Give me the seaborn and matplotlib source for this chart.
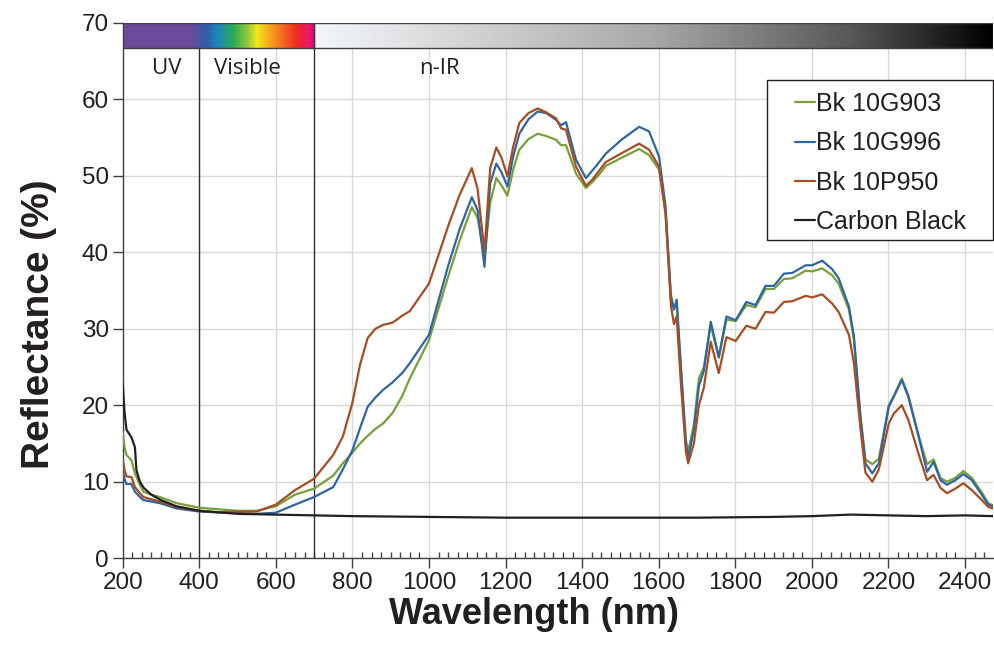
import numpy as np
import pandas as pd
import matplotlib
matplotlib.use("Agg")
import matplotlib.pyplot as plt
from matplotlib.colors import LinearSegmentedColormap
from matplotlib.patches import Rectangle
import seaborn as sns

# wavelength grid (nm) shared by the three Bk pigments
wl = [200, 205, 210, 223, 232, 245, 254, 275, 297, 341, 400, 450, 500, 550, 600, 650,
      700, 750, 775, 800, 820, 840, 860, 880, 905, 930, 950, 1000, 1050, 1080, 1112,
      1127, 1145, 1160, 1176, 1190, 1205, 1220, 1236, 1260, 1284, 1306, 1332, 1345,
      1358, 1384, 1410, 1427, 1445, 1462, 1505, 1549, 1575, 1601, 1618, 1632, 1640,
      1647, 1658, 1671, 1677, 1692, 1705, 1718, 1736, 1757, 1777, 1801, 1829, 1853,
      1879, 1901, 1927, 1949, 1984, 2001, 2027, 2053, 2070, 2097, 2110, 2127, 2140,
      2158, 2175, 2201, 2214, 2235, 2252, 2279, 2301, 2318, 2336, 2353, 2375, 2396,
      2418, 2444, 2461, 2473]

bk_10g903 = [16.5, 14.5, 13.5, 12.8, 11.1, 9.6, 8.7, 8.3, 8.0, 7.2, 6.6, 6.4, 6.2, 6.2, 6.8, 8.3,
             9.1, 10.8, 12.4, 13.8, 15.0, 16.0, 16.9, 17.6, 19.0, 21.2, 23.5, 28.5, 36.8, 41.5, 45.9,
             44.5, 39.5, 46.5, 49.7, 48.7, 47.4, 50.8, 53.4, 54.8, 55.5, 55.2, 54.7, 54.0,
             54.0, 50.3, 48.4, 49.2, 50.2, 51.3, 52.4, 53.5, 52.7, 50.8, 45.0, 34.5, 32.6,
             33.5, 25.0, 15.5, 13.9, 17.5, 23.5, 25.0, 30.5, 26.2, 31.2, 31.0, 33.1, 32.8,
             35.2, 35.2, 36.5, 36.6, 37.6, 37.5, 37.9, 37.0, 35.9, 32.5, 28.5, 18.5, 12.9,
             12.3, 13.0, 20.0, 21.2, 23.5, 21.3, 16.0, 12.3, 12.9, 10.5, 10.0, 10.5, 11.4,
             10.5, 8.6, 7.2, 6.9]

bk_10g996 = [11.8, 10.3, 9.7, 9.7, 8.7, 8.0, 7.6, 7.4, 7.2, 6.5, 6.1, 6.0, 5.9, 5.8, 5.95, 7.0,
             8.0, 9.3, 11.6, 14.1, 17.0, 19.8, 21.0, 22.0, 23.0, 24.2, 25.5, 29.2, 38.2, 43.0, 47.2,
             45.5, 38.1, 49.0, 51.6, 50.4, 48.6, 52.5, 55.5, 57.4, 58.4, 58.2, 57.3, 56.6,
             57.0, 52.1, 49.7, 50.7, 51.8, 52.9, 54.8, 56.4, 55.8, 52.5, 46.0, 34.0, 32.5,
             33.8, 25.0, 15.0, 13.1, 16.8, 22.5, 24.5, 30.9, 26.3, 31.6, 31.1, 33.5, 33.1,
             35.6, 35.6, 37.2, 37.3, 38.3, 38.3, 38.9, 37.8, 36.6, 32.9, 29.0, 18.5, 12.4,
             11.1, 12.4, 19.8, 21.1, 23.3, 21.1, 15.9, 11.3, 12.6, 10.2, 9.6, 10.2, 11.0,
             10.2, 8.3, 7.0, 6.8]

bk_10p950 = [13.0, 11.5, 10.7, 10.6, 9.3, 8.5, 8.0, 7.7, 7.4, 6.7, 6.2, 6.0, 6.1, 6.1, 7.0, 8.9,
             10.4, 13.5, 15.9, 20.3, 25.3, 28.8, 30.0, 30.5, 30.8, 31.7, 32.3, 35.9, 43.4, 47.5, 51.0,
             48.3, 40.1, 51.0, 53.7, 52.3, 49.9, 53.8, 56.9, 58.2, 58.8, 58.3, 57.5, 56.2,
             56.0, 51.2, 48.7, 49.5, 50.7, 51.8, 53.0, 54.2, 53.4, 51.2, 45.1, 33.0, 30.6,
             31.6, 22.9, 14.0, 12.4, 15.0, 20.0, 22.3, 28.3, 24.2, 28.9, 28.4, 30.4, 30.0,
             32.2, 32.1, 33.5, 33.6, 34.3, 34.1, 34.5, 33.3, 32.2, 29.2, 25.5, 17.0, 11.2,
             10.0, 11.6, 17.6, 18.9, 20.0, 18.1, 13.6, 10.2, 10.9, 9.2, 8.5, 9.1, 9.8,
             8.9, 7.6, 6.7, 6.5]

# carbon black has its own sampling
wl_cb = [200, 205, 210, 223, 232, 236, 245, 255, 275, 300, 340, 400, 500, 600, 700, 800,
         1000, 1200, 1500, 1700, 1900, 2000, 2100, 2200, 2300, 2400, 2473]
carbon_black = [22.9, 19.0, 16.8, 15.8, 14.5, 11.5, 10.0, 9.2, 8.3, 7.6, 6.8, 6.2, 5.8, 5.7, 5.6, 5.5,
                5.4, 5.3, 5.3, 5.3, 5.4, 5.5, 5.7, 5.6, 5.5, 5.6, 5.5]

series_names = ["Bk 10G903", "Bk 10G996", "Bk 10P950", "Carbon Black"]
series_colors = ["#77a03a", "#2f65a3", "#a84c22", "#231f20"]

frames = []
for name, vals in zip(series_names[:3], [bk_10g903, bk_10g996, bk_10p950]):
    frames.append(pd.DataFrame({"Wavelength": wl, "Reflectance": vals, "Sample": name}))
frames.append(pd.DataFrame({"Wavelength": wl_cb, "Reflectance": carbon_black, "Sample": series_names[3]}))
df = pd.concat(frames, ignore_index=True)

sns.set_style("ticks")
plt.rcParams['font.family'] = ['Liberation Sans', 'DejaVu Sans']

fig = plt.figure(figsize=(9.94, 6.46), dpi=100)
ax = fig.add_axes([0.1234, 0.1359, 0.8755, 0.8288])

sns.lineplot(data=df, x="Wavelength", y="Reflectance", hue="Sample", hue_order=series_names,
             palette=series_colors, estimator=None, sort=False, linewidth=1.6, ax=ax, legend=False,
             zorder=3)

ax.set_xticks(np.arange(200, 2401, 200))
ax.set_xticks(np.arange(200, 2473, 25), minor=True)
ax.set_yticks(np.arange(0, 71, 10))
ax.grid(True, which="major", color="#d9d9d9", linewidth=1.0, zorder=0)
ax.set_axisbelow(True)

ax.tick_params(axis="x", which="major", direction="out", length=7, width=1, color="#404040",
               labelsize=17.5, labelcolor="#231f20", pad=3)
ax.tick_params(axis="x", which="minor", direction="in", length=4, width=1, color="#404040")
ax.tick_params(axis="y", which="major", direction="out", length=7, width=1, color="#404040",
               labelsize=17.5, labelcolor="#231f20", pad=3)

for side in ["top", "right"]:
    ax.spines[side].set_visible(False)
for side in ["left", "bottom"]:
    ax.spines[side].set_color("#404040")
    ax.spines[side].set_linewidth(1.0)

# axis titles sit a little off-centre, as in the original
ax.set_xlabel("Wavelength (nm)", fontsize=26, fontweight="bold", color="#231f20")
ax.set_ylabel("Reflectance (%)", fontsize=28, fontweight="bold", color="#231f20")
ax.xaxis.set_label_coords(0.4726, -0.072)
ax.yaxis.set_label_coords(-0.0755, 0.437)

# spectrum bar along the top
bar_lo, bar_hi = 66.7, 70
spec = LinearSegmentedColormap.from_list("spec", [
    (0.0, "#6b4c9a"), (0.35, "#6b4c9a"), (0.44, "#2d5fa8"), (0.49, "#1b86c0"),
    (0.576, "#2bab4f"), (0.646, "#8dc63f"), (0.698, "#f2e71b"), (0.804, "#f58220"),
    (0.908, "#ee2a24"), (0.976, "#e8176c"), (1.0, "#e5007e")])
grad = np.linspace(0, 1, 512).reshape(1, -1)
ax.imshow(grad, cmap=spec, aspect="auto", extent=[200, 700, bar_lo, bar_hi], zorder=4)
greys = LinearSegmentedColormap.from_list("ir", [(0.0, "#f4f7fa"), (0.5, "#a8a8a8"),
                                                 (0.8, "#555555"), (1.0, "#000000")])
ax.imshow(grad, cmap=greys, aspect="auto", extent=[700, 2473, bar_lo, bar_hi], zorder=4)
ax.add_patch(Rectangle((200, bar_lo), 500, bar_hi - bar_lo, fill=False, edgecolor="#404040",
                       linewidth=1, zorder=5))
ax.add_patch(Rectangle((700, bar_lo), 1773, bar_hi - bar_lo, fill=False, edgecolor="#404040",
                       linewidth=1, zorder=5))
ax.set_xlim(200, 2473)
ax.set_ylim(0, 70)

# region dividers
for x in [400, 700]:
    ax.plot([x, x], [0, bar_lo], color="#303030", linewidth=1.0, zorder=2)

for label, x in [("UV", 315), ("Visible", 525), ("n-IR", 1028)]:
    ax.text(x, 64.0, label, ha="center", va="center", fontsize=16,
            family=["Open Sans", "DejaVu Sans"], color="#231f20", zorder=6)

# legend box drawn separately so it can be wider than the entries
fig.patches.append(Rectangle((767 / 994, 1 - 240 / 646), 226 / 994, 160 / 646,
                             transform=fig.transFigure, facecolor="white",
                             edgecolor="#231f20", linewidth=1.0, zorder=6))
handles = [plt.Line2D([], [], color=c, linewidth=1.6) for c in series_colors]
leg = fig.legend(handles, series_names, loc="upper left", bbox_to_anchor=(795 / 994, 1 - 92 / 646),
                 bbox_transform=fig.transFigure, borderaxespad=0, borderpad=0, frameon=False,
                 fontsize=18, handlelength=0.8, handletextpad=0.05, labelspacing=0.61)
for t in leg.get_texts():
    t.set_color("#231f20")
leg.set_zorder(7)

fig.savefig("out.png", dpi=100)
